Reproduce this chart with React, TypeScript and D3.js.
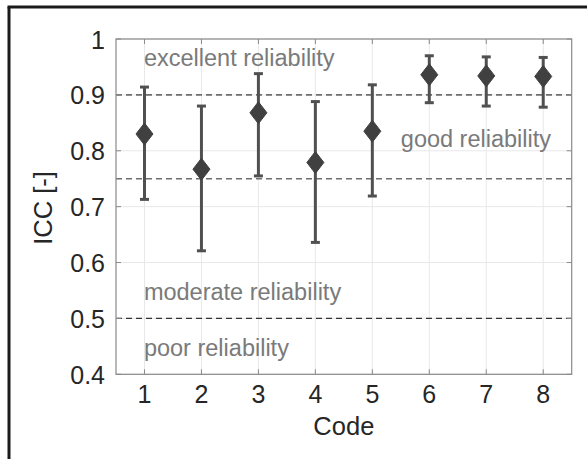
import React from "react";
import * as d3 from "d3";

const codes = [1, 2, 3, 4, 5, 6, 7, 8];
const iccValues = [0.83, 0.767, 0.868, 0.779, 0.835, 0.936, 0.934, 0.933];
const upperCI = [0.914, 0.88, 0.938, 0.888, 0.918, 0.97, 0.968, 0.967];
const lowerCI = [0.713, 0.621, 0.755, 0.636, 0.719, 0.886, 0.88, 0.878];
const yTicks = [0.4, 0.5, 0.6, 0.7, 0.8, 0.9, 1];
const yTickLabels = ["0.4", "0.5", "0.6", "0.7", "0.8", "0.9", "1"];
const thresholds = [0.9, 0.75, 0.5];
const zoneLabels = ["excellent reliability", "good reliability", "moderate reliability", "poor reliability"];
const zoneLabelX = [0.99, 5.5, 0.99, 0.99];
const zoneLabelY = [0.952, 0.807, 0.533, 0.433];

export default function App() {
  const W = 587, H = 459;
  const left = 116, right = 571.7, top = 39, bottom = 374.3;
  const x = d3.scaleLinear().domain([0.5, 8.5]).range([left, right]);
  const y = d3.scaleLinear().domain([0.4, 1]).range([bottom, top]);
  const font = "'Liberation Sans', Arial, Helvetica, sans-serif";
  const diamond = (cx: number, cy: number) => {
    const hw = 8.5, hh = 11;
    return `M${cx},${cy - hh}L${cx + hw},${cy}L${cx},${cy + hh}L${cx - hw},${cy}Z`;
  };
  return (
    <svg width={W} height={H} style={{ position: "absolute", left: 0, top: 0, background: "#fff" }}>
      <rect x={0} y={0} width={W} height={H} fill="#fff" />
      {/* outer frame */}
      <line x1={7.5} y1={7} x2={W} y2={7} stroke="#1a1a1a" strokeWidth={3} />
      <line x1={9} y1={7} x2={9} y2={H} stroke="#1a1a1a" strokeWidth={3} />
      {/* grid */}
      {codes.map((c) => (
        <line key={"gx" + c} x1={x(c)} x2={x(c)} y1={top} y2={bottom} stroke="#e8e8e8" strokeWidth={1} />
      ))}
      {yTicks.map((t) => (
        <line key={"gy" + t} x1={left} x2={right} y1={y(t)} y2={y(t)} stroke="#e8e8e8" strokeWidth={1} />
      ))}
      {/* zone labels */}
      {zoneLabels.map((lbl, i) => (
        <text key={lbl} x={x(zoneLabelX[i])} y={y(zoneLabelY[i])} fontFamily={font} fontSize={23.5} fill="#7a7a7a">
          {lbl}
        </text>
      ))}
      {/* threshold lines */}
      {thresholds.map((t, i) => (
        <line key={"th" + t} x1={left} x2={right} y1={y(t)} y2={y(t)}
          stroke={i < 2 ? "#6e6e6e" : "#333"} strokeWidth={i < 2 ? 1.6 : 1.1} strokeDasharray="6,4" />
      ))}
      {/* axes box */}
      <rect x={left} y={top} width={right - left} height={bottom - top} fill="none" stroke="#8a8a8a" strokeWidth={1.2} />
      {/* ticks */}
      {codes.map((c) => (
        <g key={"tx" + c}>
          <line x1={x(c)} x2={x(c)} y1={bottom} y2={bottom - 5} stroke="#8a8a8a" />
          <line x1={x(c)} x2={x(c)} y1={top} y2={top + 5} stroke="#8a8a8a" />
          <text x={x(c)} y={403} textAnchor="middle" fontFamily={font} fontSize={25} fill="#262626">{c}</text>
        </g>
      ))}
      {yTicks.map((t, i) => (
        <g key={"ty" + t}>
          <line x1={left} x2={left + 5} y1={y(t)} y2={y(t)} stroke="#8a8a8a" />
          <line x1={right} x2={right - 5} y1={y(t)} y2={y(t)} stroke="#8a8a8a" />
          <text x={left - 11} y={y(t) + 9.5} textAnchor="end" fontFamily={font} fontSize={25} fill="#262626">{yTickLabels[i]}</text>
        </g>
      ))}
      {/* error bars */}
      {codes.map((c, i) => (
        <g key={"eb" + c}>
          <line x1={x(c)} x2={x(c)} y1={y(upperCI[i])} y2={y(lowerCI[i])} stroke="#505050" strokeWidth={3} />
          <line x1={x(c) - 4.5} x2={x(c) + 4.5} y1={y(upperCI[i])} y2={y(upperCI[i])} stroke="#505050" strokeWidth={3} />
          <line x1={x(c) - 4.5} x2={x(c) + 4.5} y1={y(lowerCI[i])} y2={y(lowerCI[i])} stroke="#505050" strokeWidth={3} />
          <path d={diamond(x(c), y(iccValues[i]))} fill="#404040" stroke="#404040" strokeWidth={1} />
        </g>
      ))}
      {/* axis labels */}
      <text x={(left + right) / 2} y={435} textAnchor="middle" fontFamily={font} fontSize={25.5} fill="#262626">Code</text>
      <text transform={`translate(52,208) rotate(-90)`} textAnchor="middle" fontFamily={font} fontSize={25.5} fill="#262626">ICC [-]</text>
    </svg>
  );
}
